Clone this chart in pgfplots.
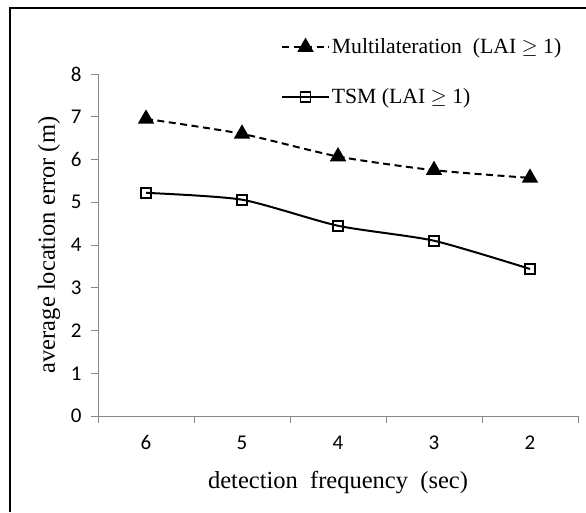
\documentclass[border=0pt]{standalone}
\usepackage{fontspec}
\setmainfont{Liberation Serif}
\newfontfamily\calibri{Carlito}
\usepackage{pgfplots}
\pgfplotsset{compat=1.18}
\definecolor{axisgray}{RGB}{134,134,134}

\begin{document}
\begin{tikzpicture}
    \begin{axis}[
            at={(0pt,0pt)}, anchor=south west,
            scale only axis,
            width=480pt, height=342pt,
            xmin=-0.5, xmax=4.5,
            ymin=0, ymax=8,
            axis x line=bottom, axis y line=left,
            axis line style={-, draw=axisgray, line width=0.8pt},
            tick align=outside,
            major tick length=7pt,
            xtick={0,1,2,3,4},
            xticklabels={6,5,4,3,2},
            xtick style={draw=none},
            extra x ticks={-0.5,0.5,1.5,2.5,3.5,4.5},
            extra x tick labels={},
            extra x tick style={xtick style={draw=axisgray, line width=0.8pt}},
            ytick={0,1,...,8},
            ytick style={draw=axisgray, line width=0.8pt},
            /pgf/number format/assume math mode=true,
            ticklabel style={font=\calibri\fontsize{21}{23}\selectfont},
            xticklabel style={yshift=-9pt},
            yticklabel style={xshift=-6pt},
            xlabel={detection\ \ frequency\ \ (sec)},
            ylabel={average location error (m)},
            every axis x label/.style={at={(rel axis cs:0.5,0)}, yshift=-67pt, anchor=center},
            every axis y label/.style={at={(rel axis cs:0,0.5)}, xshift=-49pt, rotate=90, anchor=center},
            label style={font=\fontsize{24.5}{26}\selectfont},
            legend style={draw=none, fill=none,
                at={(rel axis cs:0.375,1.115)}, anchor=north west,
                font=\fontsize{21.7}{24}\selectfont,
                row sep=29pt,
                /tikz/every even column/.append style={column sep=4pt}},
            legend cell align=left,
            legend image code/.code={
                \draw[mark repeat=2, mark phase=2]
                plot coordinates {(0cm,0cm) (0.82cm,0cm) (1.64cm,0cm)};},
        ]
        \addplot[black, line width=2pt, smooth, tension=0.4,
            dash pattern=on 7pt off 4.5pt,
            mark=triangle*, mark size=7.5pt, mark options={solid, fill=black}]
        coordinates {(0,6.95) (1,6.60) (2,6.07) (3,5.75) (4,5.57)};
        \addplot[black, line width=2pt, smooth, tension=0.4,
            mark=square, mark size=5pt, mark options={solid, fill=white, line width=1.8pt}]
        coordinates {(0,5.22) (1,5.06) (2,4.45) (3,4.10) (4,3.44)};
        \legend{Multilateration\ \ (LAI $\geq$ 1), TSM (LAI $\geq$ 1)}
    \end{axis}
    \draw[line width=2.2pt] (-88pt,-96pt) -- (-88pt,408pt) -- (488pt,408pt);
    \pgfresetboundingbox
    \useasboundingbox (-98pt,-96pt) rectangle (488pt,416pt);
\end{tikzpicture}
\end{document}
